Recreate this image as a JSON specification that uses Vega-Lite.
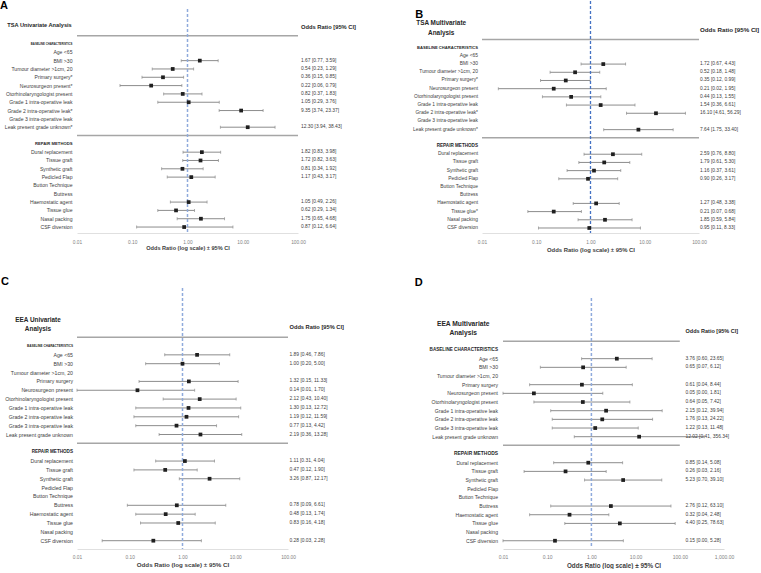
{
  "$schema": "https://vega.github.io/schema/vega-lite/v6.json",
  "padding": 0,
  "background": "white",
  "config": {
    "view": {"stroke": null},
    "font": "Liberation Sans",
    "text": {"font": "Liberation Sans"},
    "title": {"font": "Liberation Sans"},
    "axis": {"labelFont": "Liberation Sans", "titleFont": "Liberation Sans"}
  },
  "datasets": {
    "tsaUni": [
      {"row": -2, "kind": "title", "label": "TSA Univariate Analysis", "ci": "Odds Ratio [95% CI]"},
      {"row": -1, "kind": "sep", "label": ""},
      {"row": 0, "kind": "section", "label": "BASELINE CHARACTERISTICS"},
      {"row": 1, "kind": "item", "label": "Age <65"},
      {"row": 2, "kind": "item", "label": "BMI >30", "or": 1.67, "lo": 0.77, "hi": 3.59, "ci": "1.67 [0.77, 3.59]"},
      {"row": 3, "kind": "item", "label": "Tumour diameter >1cm, 20", "or": 0.54, "lo": 0.23, "hi": 1.29, "ci": "0.54 [0.23, 1.29]"},
      {"row": 4, "kind": "item", "label": "Primary surgery*", "or": 0.36, "lo": 0.15, "hi": 0.85, "ci": "0.36 [0.15, 0.85]"},
      {"row": 5, "kind": "item", "label": "Neurosurgeon present*", "or": 0.22, "lo": 0.06, "hi": 0.79, "ci": "0.22 [0.06, 0.79]"},
      {"row": 6, "kind": "item", "label": "Otorhinolaryngologist present", "or": 0.82, "lo": 0.37, "hi": 1.83, "ci": "0.82 [0.37, 1.83]"},
      {"row": 7, "kind": "item", "label": "Grade 1 intra-operative leak", "or": 1.05, "lo": 0.29, "hi": 3.76, "ci": "1.05 [0.29, 3.76]"},
      {"row": 8, "kind": "item", "label": "Grade 2 intra-operative leak*", "or": 9.35, "lo": 3.74, "hi": 23.37, "ci": "9.35 [3.74, 23.37]"},
      {"row": 9, "kind": "item", "label": "Grade 3 intra-operative leak"},
      {"row": 10, "kind": "item", "label": "Leak present grade unknown*", "or": 12.30, "lo": 3.94, "hi": 38.43, "ci": "12.30 [3.94, 38.43]"},
      {"row": 11, "kind": "sep", "label": ""},
      {"row": 12, "kind": "section", "label": "REPAIR METHODS"},
      {"row": 13, "kind": "item", "label": "Dural replacement", "or": 1.82, "lo": 0.83, "hi": 3.98, "ci": "1.82 [0.83, 3.98]"},
      {"row": 14, "kind": "item", "label": "Tissue graft", "or": 1.72, "lo": 0.82, "hi": 3.63, "ci": "1.72 [0.82, 3.63]"},
      {"row": 15, "kind": "item", "label": "Synthetic graft", "or": 0.81, "lo": 0.34, "hi": 1.92, "ci": "0.81 [0.34, 1.92]"},
      {"row": 16, "kind": "item", "label": "Pedicled Flap", "or": 1.17, "lo": 0.43, "hi": 3.17, "ci": "1.17 [0.43, 3.17]"},
      {"row": 17, "kind": "item", "label": "Button Technique"},
      {"row": 18, "kind": "item", "label": "Buttress"},
      {"row": 19, "kind": "item", "label": "Haemostatic agent", "or": 1.05, "lo": 0.49, "hi": 2.26, "ci": "1.05 [0.49, 2.26]"},
      {"row": 20, "kind": "item", "label": "Tissue glue", "or": 0.62, "lo": 0.29, "hi": 1.34, "ci": "0.62 [0.29, 1.34]"},
      {"row": 21, "kind": "item", "label": "Nasal packing", "or": 1.75, "lo": 0.65, "hi": 4.68, "ci": "1.75 [0.65, 4.68]"},
      {"row": 22, "kind": "item", "label": "CSF diversion", "or": 0.87, "lo": 0.12, "hi": 6.64, "ci": "0.87 [0.12, 6.64]"}
    ],
    "tsaMulti": [
      {"row": -2, "kind": "title", "label": "TSA Multivariate\nAnalysis", "ci": "Odds Ratio [95% CI]"},
      {"row": -1, "kind": "sep", "label": ""},
      {"row": 0, "kind": "section", "label": "BASELINE CHARACTERISTICS"},
      {"row": 1, "kind": "item", "label": "Age <65"},
      {"row": 2, "kind": "item", "label": "BMI >30", "or": 1.72, "lo": 0.67, "hi": 4.43, "ci": "1.72 [0.67, 4.43]"},
      {"row": 3, "kind": "item", "label": "Tumour diameter >1cm, 20", "or": 0.52, "lo": 0.18, "hi": 1.48, "ci": "0.52 [0.18, 1.48]"},
      {"row": 4, "kind": "item", "label": "Primary surgery*", "or": 0.35, "lo": 0.12, "hi": 0.99, "ci": "0.35 [0.12, 0.99]"},
      {"row": 5, "kind": "item", "label": "Neurosurgeon present", "or": 0.21, "lo": 0.02, "hi": 1.95, "ci": "0.21 [0.02, 1.95]"},
      {"row": 6, "kind": "item", "label": "Otorhinolaryngologist present", "or": 0.44, "lo": 0.13, "hi": 1.55, "ci": "0.44 [0.13, 1.55]"},
      {"row": 7, "kind": "item", "label": "Grade 1 intra-operative leak", "or": 1.54, "lo": 0.36, "hi": 6.61, "ci": "1.54 [0.36, 6.61]"},
      {"row": 8, "kind": "item", "label": "Grade 2 intra-operative leak*", "or": 16.10, "lo": 4.61, "hi": 56.29, "ci": "16.10 [4.61, 56.29]"},
      {"row": 9, "kind": "item", "label": "Grade 3 intra-operative leak"},
      {"row": 10, "kind": "item", "label": "Leak present grade unknown*", "or": 7.64, "lo": 1.75, "hi": 33.40, "ci": "7.64 [1.75, 33.40]"},
      {"row": 11, "kind": "sep", "label": ""},
      {"row": 12, "kind": "section", "label": "REPAIR METHODS"},
      {"row": 13, "kind": "item", "label": "Dural replacement", "or": 2.59, "lo": 0.76, "hi": 8.80, "ci": "2.59 [0.76, 8.80]"},
      {"row": 14, "kind": "item", "label": "Tissue graft", "or": 1.79, "lo": 0.61, "hi": 5.30, "ci": "1.79 [0.61, 5.30]"},
      {"row": 15, "kind": "item", "label": "Synthetic graft", "or": 1.16, "lo": 0.37, "hi": 3.61, "ci": "1.16 [0.37, 3.61]"},
      {"row": 16, "kind": "item", "label": "Pedicled Flap", "or": 0.90, "lo": 0.26, "hi": 3.17, "ci": "0.90 [0.26, 3.17]"},
      {"row": 17, "kind": "item", "label": "Button Technique"},
      {"row": 18, "kind": "item", "label": "Buttress"},
      {"row": 19, "kind": "item", "label": "Haemostatic agent", "or": 1.27, "lo": 0.48, "hi": 3.38, "ci": "1.27 [0.48, 3.38]"},
      {"row": 20, "kind": "item", "label": "Tissue glue*", "or": 0.21, "lo": 0.07, "hi": 0.68, "ci": "0.21 [0.07, 0.68]"},
      {"row": 21, "kind": "item", "label": "Nasal packing", "or": 1.85, "lo": 0.59, "hi": 5.84, "ci": "1.85 [0.59, 5.84]"},
      {"row": 22, "kind": "item", "label": "CSF diversion", "or": 0.95, "lo": 0.11, "hi": 8.33, "ci": "0.95 [0.11, 8.33]"}
    ],
    "eeaUni": [
      {"row": -2, "kind": "title", "label": "EEA Univariate\nAnalysis", "ci": "Odds Ratio [95% CI]"},
      {"row": -1, "kind": "sep", "label": ""},
      {"row": 0, "kind": "section", "label": "BASELINE CHARACTERISTICS"},
      {"row": 1, "kind": "item", "label": "Age <65", "or": 1.89, "lo": 0.46, "hi": 7.86, "ci": "1.89 [0.46, 7.86]"},
      {"row": 2, "kind": "item", "label": "BMI >30", "or": 1.00, "lo": 0.20, "hi": 5.00, "ci": "1.00 [0.20, 5.00]"},
      {"row": 3, "kind": "item", "label": "Tumour diameter >1cm, 20"},
      {"row": 4, "kind": "item", "label": "Primary surgery", "or": 1.32, "lo": 0.15, "hi": 11.33, "ci": "1.32 [0.15, 11.33]"},
      {"row": 5, "kind": "item", "label": "Neurosurgeon present", "or": 0.14, "lo": 0.01, "hi": 1.70, "ci": "0.14 [0.01, 1.70]"},
      {"row": 6, "kind": "item", "label": "Otorhinolaryngologist present", "or": 2.12, "lo": 0.43, "hi": 10.40, "ci": "2.12 [0.43, 10.40]"},
      {"row": 7, "kind": "item", "label": "Grade 1 intra-operative leak", "or": 1.30, "lo": 0.13, "hi": 12.72, "ci": "1.30 [0.13, 12.72]"},
      {"row": 8, "kind": "item", "label": "Grade 2 intra-operative leak", "or": 1.19, "lo": 0.12, "hi": 11.59, "ci": "1.19 [0.12, 11.59]"},
      {"row": 9, "kind": "item", "label": "Grade 3 intra-operative leak", "or": 0.77, "lo": 0.13, "hi": 4.42, "ci": "0.77 [0.13, 4.42]"},
      {"row": 10, "kind": "item", "label": "Leak present grade unknown", "or": 2.19, "lo": 0.36, "hi": 13.28, "ci": "2.19 [0.36, 13.28]"},
      {"row": 11, "kind": "sep", "label": ""},
      {"row": 12, "kind": "section", "label": "REPAIR METHODS"},
      {"row": 13, "kind": "item", "label": "Dural replacement", "or": 1.11, "lo": 0.31, "hi": 4.04, "ci": "1.11 [0.31, 4.04]"},
      {"row": 14, "kind": "item", "label": "Tissue graft", "or": 0.47, "lo": 0.12, "hi": 1.90, "ci": "0.47 [0.12, 1.90]"},
      {"row": 15, "kind": "item", "label": "Synthetic graft", "or": 3.26, "lo": 0.87, "hi": 12.17, "ci": "3.26 [0.87, 12.17]"},
      {"row": 16, "kind": "item", "label": "Pedicled Flap"},
      {"row": 17, "kind": "item", "label": "Button Technique"},
      {"row": 18, "kind": "item", "label": "Buttress", "or": 0.78, "lo": 0.09, "hi": 6.61, "ci": "0.78 [0.09, 6.61]"},
      {"row": 19, "kind": "item", "label": "Haemostatic agent", "or": 0.48, "lo": 0.13, "hi": 1.74, "ci": "0.48 [0.13, 1.74]"},
      {"row": 20, "kind": "item", "label": "Tissue glue", "or": 0.83, "lo": 0.16, "hi": 4.18, "ci": "0.83 [0.16, 4.18]"},
      {"row": 21, "kind": "item", "label": "Nasal packing"},
      {"row": 22, "kind": "item", "label": "CSF diversion", "or": 0.28, "lo": 0.03, "hi": 2.28, "ci": "0.28 [0.03, 2.28]"}
    ],
    "eeaMulti": [
      {"row": -2, "kind": "title", "label": "EEA Multivariate\nAnalysis", "ci": "Odds Ratio [95% CI]"},
      {"row": -1, "kind": "sep", "label": ""},
      {"row": 0, "kind": "section", "label": "BASELINE CHARACTERISTICS"},
      {"row": 1, "kind": "item", "label": "Age <65", "or": 3.76, "lo": 0.60, "hi": 23.65, "ci": "3.76 [0.60, 23.65]"},
      {"row": 2, "kind": "item", "label": "BMI >30", "or": 0.65, "lo": 0.07, "hi": 6.12, "ci": "0.65 [0.07, 6.12]"},
      {"row": 3, "kind": "item", "label": "Tumour diameter >1cm, 20"},
      {"row": 4, "kind": "item", "label": "Primary surgery", "or": 0.61, "lo": 0.04, "hi": 8.44, "ci": "0.61 [0.04, 8.44]"},
      {"row": 5, "kind": "item", "label": "Neurosurgeon present", "or": 0.05, "lo": 0.004, "hi": 1.81, "ci": "0.05 [0.00, 1.81]"},
      {"row": 6, "kind": "item", "label": "Otorhinolaryngologist present", "or": 0.64, "lo": 0.05, "hi": 7.42, "ci": "0.64 [0.05, 7.42]"},
      {"row": 7, "kind": "item", "label": "Grade 1 intra-operative leak", "or": 2.15, "lo": 0.12, "hi": 39.94, "ci": "2.15 [0.12, 39.94]"},
      {"row": 8, "kind": "item", "label": "Grade 2 intra-operative leak", "or": 1.76, "lo": 0.13, "hi": 24.22, "ci": "1.76 [0.13, 24.22]"},
      {"row": 9, "kind": "item", "label": "Grade 3 intra-operative leak", "or": 1.22, "lo": 0.13, "hi": 11.48, "ci": "1.22 [0.13, 11.48]"},
      {"row": 10, "kind": "item", "label": "Leak present grade unknown", "or": 12.02, "lo": 0.41, "hi": 356.34, "ci": "12.02 [0.41, 356.34]"},
      {"row": 11, "kind": "sep", "label": ""},
      {"row": 12, "kind": "section", "label": "REPAIR METHODS"},
      {"row": 13, "kind": "item", "label": "Dural replacement", "or": 0.85, "lo": 0.14, "hi": 5.08, "ci": "0.85 [0.14, 5.08]"},
      {"row": 14, "kind": "item", "label": "Tissue graft", "or": 0.26, "lo": 0.03, "hi": 2.16, "ci": "0.26 [0.03, 2.16]"},
      {"row": 15, "kind": "item", "label": "Synthetic graft", "or": 5.23, "lo": 0.70, "hi": 39.10, "ci": "5.23 [0.70, 39.10]"},
      {"row": 16, "kind": "item", "label": "Pedicled Flap"},
      {"row": 17, "kind": "item", "label": "Button Technique"},
      {"row": 18, "kind": "item", "label": "Buttress", "or": 2.76, "lo": 0.12, "hi": 63.10, "ci": "2.76 [0.12, 63.10]"},
      {"row": 19, "kind": "item", "label": "Haemostatic agent", "or": 0.32, "lo": 0.04, "hi": 2.48, "ci": "0.32 [0.04, 2.48]"},
      {"row": 20, "kind": "item", "label": "Tissue glue", "or": 4.40, "lo": 0.25, "hi": 78.63, "ci": "4.40 [0.25, 78.63]"},
      {"row": 21, "kind": "item", "label": "Nasal packing"},
      {"row": 22, "kind": "item", "label": "CSF diversion", "or": 0.15, "lo": 0.004, "hi": 5.28, "ci": "0.15 [0.00, 5.28]"}
    ]
  },
  "spacing": 23,
  "vconcat": [
    {
      "bounds": "flush",
      "spacing": 184,
      "hconcat": [
        {
          "width": 221, "height": 232,
          "title": {"text": "A", "anchor": "start", "frame": "group", "orient": "top", "dx": -77, "dy": 10, "offset": 0, "fontSize": 11, "fontWeight": "bold", "color": "#000000"},
          "data": {"name": "tsaUni"},
          "encoding": {"y": {"field": "row", "type": "quantitative", "scale": {"domain": [-5.168, 22.716], "reverse": true, "nice": false, "zero": false}, "axis": null}},
          "layer": [
            {"transform": [{"filter": "datum.kind == 'sep'"}], "mark": {"type": "rule", "color": "#a6a6a6", "strokeWidth": 1.5}, "encoding": {"x": {"datum": 0.01, "type": "quantitative"}, "x2": {"datum": 100}}},
            {"transform": [{"filter": "isValid(datum.or)"}], "mark": {"type": "rule", "color": "#8c8c8c", "strokeWidth": 1}, "encoding": {"x": {"field": "lo", "type": "quantitative", "scale": {"type": "log", "domain": [0.01, 100], "nice": false, "clamp": true}, "axis": {"values": [0.01, 0.1, 1, 10, 100], "format": ",.2f", "title": "Odds Ratio (log scale) ± 95% CI", "grid": false, "ticks": false, "domain": true, "domainColor": "#e0e0e0", "labelFontSize": 4.8, "labelColor": "#7f7f7f", "labelPadding": 6, "labelFlush": false, "labelOverlap": false, "titleFontSize": 5.6, "titleFontWeight": "bold", "titleColor": "#404040", "titlePadding": 2}}, "x2": {"field": "hi"}}},
            {"transform": [{"filter": "isValid(datum.or)"}, {"fold": ["lo", "hi"], "as": ["end", "v"]}], "mark": {"type": "tick", "orient": "vertical", "size": 3, "thickness": 1, "color": "#8c8c8c"}, "encoding": {"x": {"field": "v", "type": "quantitative"}}},
            {"transform": [{"filter": "datum.kind == 'title'"}], "mark": {"type": "rule", "color": "#8faadc", "strokeWidth": 1.5, "strokeDash": [3, 2]}, "encoding": {"x": {"datum": 1}, "y": {"datum": -4.207}, "y2": {"datum": 22.716}}},
            {"transform": [{"filter": "isValid(datum.or)"}], "mark": {"type": "square", "size": 14, "color": "#1f1f1f", "opacity": 1}, "encoding": {"x": {"field": "or", "type": "quantitative"}}},
            {"transform": [{"filter": "datum.kind == 'item'"}], "mark": {"type": "text", "align": "right", "baseline": "middle", "dx": -4.5, "fontSize": 5.1, "color": "#404040"}, "encoding": {"x": {"datum": 0.01}, "text": {"field": "label"}}},
            {"transform": [{"filter": "datum.kind == 'section'"}], "mark": {"type": "text", "align": "right", "baseline": "middle", "dx": -4.5, "fontWeight": "bold", "color": "#262626"}, "encoding": {"x": {"datum": 0.01}, "text": {"field": "label"}, "size": {"condition": {"test": "datum.label == 'BASELINE CHARACTERISTICS'", "value": 2.8}, "value": 4.2}}},
            {"transform": [{"filter": "datum.kind == 'title'"}], "mark": {"type": "text", "align": "center", "baseline": "middle", "dx": -37.5, "dy": -2, "fontSize": 5.65, "fontWeight": "bold", "lineBreak": "\n", "lineHeight": 9.4, "color": "#262626"}, "encoding": {"x": {"datum": 0.01}, "text": {"field": "label"}}},
            {"transform": [{"filter": "datum.kind == 'item' && isValid(datum.ci)"}], "mark": {"type": "text", "align": "left", "baseline": "middle", "dx": 3, "fontSize": 4.9, "color": "#404040"}, "encoding": {"x": {"datum": 100}, "text": {"field": "ci"}}},
            {"transform": [{"filter": "datum.kind == 'title'"}], "mark": {"type": "text", "align": "left", "baseline": "middle", "dx": 3, "fontSize": 5.75, "fontWeight": "bold", "color": "#262626"}, "encoding": {"x": {"datum": 100}, "text": {"field": "ci"}}}
          ]
        },
        {
          "width": 217, "height": 232,
          "title": {"text": "B", "anchor": "start", "frame": "group", "orient": "top", "dx": -66.7, "dy": 20, "offset": 0, "fontSize": 11, "fontWeight": "bold", "color": "#000000"},
          "data": {"name": "tsaMulti"},
          "encoding": {"y": {"field": "row", "type": "quantitative", "scale": {"domain": [-5.699, 22.612], "reverse": true, "nice": false, "zero": false}, "axis": null}},
          "layer": [
            {"transform": [{"filter": "datum.kind == 'sep'"}], "mark": {"type": "rule", "color": "#a6a6a6", "strokeWidth": 1.5}, "encoding": {"x": {"datum": 0.01, "type": "quantitative"}, "x2": {"datum": 100}}},
            {"transform": [{"filter": "isValid(datum.or)"}], "mark": {"type": "rule", "color": "#8c8c8c", "strokeWidth": 1}, "encoding": {"x": {"field": "lo", "type": "quantitative", "scale": {"type": "log", "domain": [0.01, 100], "nice": false, "clamp": true}, "axis": {"values": [0.01, 0.1, 1, 10, 100], "format": ",.2f", "title": "Odds Ratio (log scale) ± 95% CI", "grid": false, "ticks": false, "domain": true, "domainColor": "#e0e0e0", "labelFontSize": 4.8, "labelColor": "#7f7f7f", "labelPadding": 6, "labelFlush": false, "labelOverlap": false, "titleFontSize": 5.9, "titleFontWeight": "bold", "titleColor": "#404040", "titlePadding": 3}}, "x2": {"field": "hi"}}},
            {"transform": [{"filter": "isValid(datum.or)"}, {"fold": ["lo", "hi"], "as": ["end", "v"]}], "mark": {"type": "tick", "orient": "vertical", "size": 3, "thickness": 1, "color": "#8c8c8c"}, "encoding": {"x": {"field": "v", "type": "quantitative"}}},
            {"transform": [{"filter": "datum.kind == 'title'"}], "mark": {"type": "rule", "color": "#4472c4", "strokeWidth": 1.3, "strokeDash": [3, 2]}, "encoding": {"x": {"datum": 1}, "y": {"datum": -5.699}, "y2": {"datum": 22.612}}},
            {"transform": [{"filter": "isValid(datum.or)"}], "mark": {"type": "square", "size": 14, "color": "#1f1f1f", "opacity": 1}, "encoding": {"x": {"field": "or", "type": "quantitative"}}},
            {"transform": [{"filter": "datum.kind == 'item'"}], "mark": {"type": "text", "align": "right", "baseline": "middle", "dx": -4, "fontSize": 4.9, "color": "#404040"}, "encoding": {"x": {"datum": 0.01}, "text": {"field": "label"}}},
            {"transform": [{"filter": "datum.kind == 'section'"}], "mark": {"type": "text", "align": "right", "baseline": "middle", "dx": -4, "fontWeight": "bold", "color": "#262626"}, "encoding": {"x": {"datum": 0.01}, "text": {"field": "label"}, "size": {"condition": {"test": "datum.label == 'BASELINE CHARACTERISTICS'", "value": 4.1}, "value": 4.6}}},
            {"transform": [{"filter": "datum.kind == 'title'"}], "mark": {"type": "text", "align": "center", "baseline": "middle", "dx": -40.8, "dy": -8, "fontSize": 6.4, "fontWeight": "bold", "lineBreak": "\n", "lineHeight": 9.4, "color": "#262626"}, "encoding": {"x": {"datum": 0.01}, "text": {"field": "label"}}},
            {"transform": [{"filter": "datum.kind == 'item' && isValid(datum.ci)"}], "mark": {"type": "text", "align": "left", "baseline": "middle", "dx": 1, "fontSize": 4.9, "color": "#404040"}, "encoding": {"x": {"datum": 100}, "text": {"field": "ci"}}},
            {"transform": [{"filter": "datum.kind == 'title'"}], "mark": {"type": "text", "align": "left", "baseline": "middle", "dx": 1, "dy": -1.5, "fontSize": 6.2, "fontWeight": "bold", "color": "#262626"}, "encoding": {"x": {"datum": 100}, "text": {"field": "ci"}}}
          ]
        }
      ]
    },
    {
      "bounds": "flush",
      "spacing": 215,
      "hconcat": [
        {
          "width": 211, "height": 261,
          "title": {"text": "C", "anchor": "start", "frame": "group", "orient": "top", "dx": -76, "dy": 0, "offset": 0, "fontSize": 11, "fontWeight": "bold", "color": "#000000"},
          "data": {"name": "eeaUni"},
          "encoding": {"y": {"field": "row", "type": "quantitative", "scale": {"domain": [-6.554, 22.938], "reverse": true, "nice": false, "zero": false}, "axis": null}},
          "layer": [
            {"transform": [{"filter": "datum.kind == 'sep'"}], "mark": {"type": "rule", "color": "#a6a6a6", "strokeWidth": 1.5}, "encoding": {"x": {"datum": 0.01, "type": "quantitative"}, "x2": {"datum": 100}}},
            {"transform": [{"filter": "isValid(datum.or)"}], "mark": {"type": "rule", "color": "#8c8c8c", "strokeWidth": 1}, "encoding": {"x": {"field": "lo", "type": "quantitative", "scale": {"type": "log", "domain": [0.01, 100], "nice": false, "clamp": true}, "axis": {"values": [0.01, 0.1, 1, 10, 100], "format": ",.2f", "title": "Odds Ratio (log scale) ± 95% CI", "grid": false, "ticks": false, "domain": true, "domainColor": "#e0e0e0", "labelFontSize": 4.8, "labelColor": "#7f7f7f", "labelPadding": 5, "labelFlush": false, "labelOverlap": false, "titleFontSize": 6.2, "titleFontWeight": "bold", "titleColor": "#404040", "titlePadding": 3}}, "x2": {"field": "hi"}}},
            {"transform": [{"filter": "isValid(datum.or)"}, {"fold": ["lo", "hi"], "as": ["end", "v"]}], "mark": {"type": "tick", "orient": "vertical", "size": 3, "thickness": 1, "color": "#8c8c8c"}, "encoding": {"x": {"field": "v", "type": "quantitative"}}},
            {"transform": [{"filter": "datum.kind == 'title'"}], "mark": {"type": "rule", "color": "#8faadc", "strokeWidth": 1.5, "strokeDash": [3, 2]}, "encoding": {"x": {"datum": 1}, "y": {"datum": -6.554}, "y2": {"datum": 22.938}}},
            {"transform": [{"filter": "isValid(datum.or)"}], "mark": {"type": "square", "size": 14, "color": "#1f1f1f", "opacity": 1}, "encoding": {"x": {"field": "or", "type": "quantitative"}}},
            {"transform": [{"filter": "datum.kind == 'item'"}], "mark": {"type": "text", "align": "right", "baseline": "middle", "dx": -4, "fontSize": 5.2, "color": "#404040"}, "encoding": {"x": {"datum": 0.01}, "text": {"field": "label"}}},
            {"transform": [{"filter": "datum.kind == 'section'"}], "mark": {"type": "text", "align": "right", "baseline": "middle", "dx": -4, "fontWeight": "bold", "color": "#262626"}, "encoding": {"x": {"datum": 0.01}, "text": {"field": "label"}, "size": {"condition": {"test": "datum.label == 'BASELINE CHARACTERISTICS'", "value": 3.1}, "value": 4.6}}},
            {"transform": [{"filter": "datum.kind == 'title'"}], "mark": {"type": "text", "align": "center", "baseline": "middle", "dx": -39, "dy": -8.5, "fontSize": 6.4, "fontWeight": "bold", "lineBreak": "\n", "lineHeight": 9.4, "color": "#262626"}, "encoding": {"x": {"datum": 0.01}, "text": {"field": "label"}}},
            {"transform": [{"filter": "datum.kind == 'item' && isValid(datum.ci)"}], "mark": {"type": "text", "align": "left", "baseline": "middle", "dx": 1.5, "fontSize": 4.9, "color": "#404040"}, "encoding": {"x": {"datum": 100}, "text": {"field": "ci"}}},
            {"transform": [{"filter": "datum.kind == 'title'"}], "mark": {"type": "text", "align": "left", "baseline": "middle", "dx": 1.5, "dy": -1.5, "fontSize": 5.7, "fontWeight": "bold", "color": "#262626"}, "encoding": {"x": {"datum": 100}, "text": {"field": "ci"}}}
          ]
        },
        {
          "width": 221, "height": 261,
          "title": {"text": "D", "anchor": "start", "frame": "group", "orient": "top", "dx": -88.3, "dy": 0, "offset": 0, "fontSize": 11, "fontWeight": "bold", "color": "#000000"},
          "data": {"name": "eeaMulti"},
          "encoding": {"y": {"field": "row", "type": "quantitative", "scale": {"domain": [-7.151, 22.953], "reverse": true, "nice": false, "zero": false}, "axis": null}},
          "layer": [
            {"transform": [{"filter": "datum.kind == 'sep'"}], "mark": {"type": "rule", "color": "#a6a6a6", "strokeWidth": 1.5}, "encoding": {"x": {"datum": 0.01, "type": "quantitative"}, "x2": {"datum": 100}}},
            {"transform": [{"filter": "isValid(datum.or)"}], "mark": {"type": "rule", "color": "#8c8c8c", "strokeWidth": 1}, "encoding": {"x": {"field": "lo", "type": "quantitative", "scale": {"type": "log", "domain": [0.01, 1000], "nice": false, "clamp": true}, "axis": {"values": [0.01, 0.1, 1, 10, 100, 1000], "format": ",.2f", "title": "Odds Ratio (log scale) ± 95% CI", "grid": false, "ticks": false, "domain": true, "domainColor": "#d9d9d9", "labelFontSize": 5, "labelColor": "#7f7f7f", "labelPadding": 5, "labelFlush": false, "labelOverlap": false, "titleFontSize": 6.3, "titleFontWeight": "bold", "titleColor": "#404040", "titlePadding": 3}}, "x2": {"field": "hi"}}},
            {"transform": [{"filter": "isValid(datum.or)"}, {"fold": ["lo", "hi"], "as": ["end", "v"]}], "mark": {"type": "tick", "orient": "vertical", "size": 3, "thickness": 1, "color": "#8c8c8c"}, "encoding": {"x": {"field": "v", "type": "quantitative"}}},
            {"transform": [{"filter": "datum.kind == 'title'"}], "mark": {"type": "rule", "color": "#8faadc", "strokeWidth": 1.5, "strokeDash": [3, 2]}, "encoding": {"x": {"datum": 1}, "y": {"datum": -5.998}, "y2": {"datum": 22.837}}},
            {"transform": [{"filter": "isValid(datum.or)"}], "mark": {"type": "square", "size": 14, "color": "#1f1f1f", "opacity": 1}, "encoding": {"x": {"field": "or", "type": "quantitative"}}},
            {"transform": [{"filter": "datum.kind == 'item'"}], "mark": {"type": "text", "align": "right", "baseline": "middle", "dx": -5, "fontSize": 5.1, "color": "#404040"}, "encoding": {"x": {"datum": 0.01}, "text": {"field": "label"}}},
            {"transform": [{"filter": "datum.kind == 'section'"}], "mark": {"type": "text", "align": "right", "baseline": "middle", "dx": -5, "fontWeight": "bold", "color": "#262626"}, "encoding": {"x": {"datum": 0.01}, "text": {"field": "label"}, "size": {"condition": {"test": "datum.label == 'BASELINE CHARACTERISTICS'", "value": 4.6}, "value": 4.9}}},
            {"transform": [{"filter": "datum.kind == 'title'"}], "mark": {"type": "text", "align": "center", "baseline": "middle", "dx": -39.8, "dy": -8.7, "fontSize": 6.7, "fontWeight": "bold", "lineBreak": "\n", "lineHeight": 9.4, "color": "#262626"}, "encoding": {"x": {"datum": 0.01}, "text": {"field": "label"}}},
            {"transform": [{"filter": "datum.kind == 'item' && isValid(datum.ci)"}], "mark": {"type": "text", "align": "left", "baseline": "middle", "dx": 5.7, "fontSize": 4.9, "color": "#404040"}, "encoding": {"x": {"datum": 100}, "text": {"field": "ci"}}},
            {"transform": [{"filter": "datum.kind == 'title'"}], "mark": {"type": "text", "align": "left", "baseline": "middle", "dx": 5.7, "dy": -2, "fontSize": 5.5, "fontWeight": "bold", "color": "#262626"}, "encoding": {"x": {"datum": 100}, "text": {"field": "ci"}}}
          ]
        }
      ]
    }
  ]
}
